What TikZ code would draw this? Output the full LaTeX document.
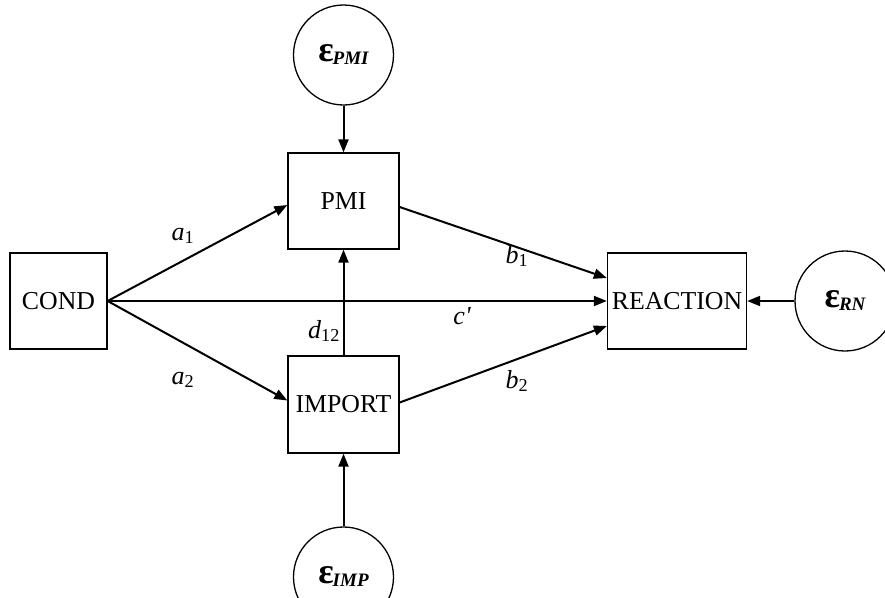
\documentclass[tikz,border=0pt]{standalone}
\usepackage{fontspec}
\setmainfont{Liberation Serif}
\usetikzlibrary{arrows.meta}
\begin{document}
\begin{tikzpicture}[x=1pt,y=-1pt,
  box/.style={draw,line width=1.3pt,rectangle,inner sep=0pt,font=\fontsize{25.8}{30}\selectfont},
  err/.style={draw,line width=1.3pt,circle,minimum size=100pt,inner sep=0pt},
  arr/.style={line width=2pt,-{Triangle[length=13pt,width=10pt]}},
  lab/.style={font=\fontsize{26}{30}\selectfont\itshape,inner sep=0pt}]
\useasboundingbox (0,0) rectangle (885,597);
\clip (0,0) rectangle (885,597);
\newcommand{\epsl}[1]{{\fontsize{36}{38}\selectfont\bfseries ε}\hspace{-1pt}{\fontsize{19}{20}\selectfont\bfseries\itshape\raisebox{-3pt}{#1}}}
\node[box,minimum width=97pt,minimum height=96pt] (cond) at (58.5,301) {COND};
\node[box,minimum width=111pt,minimum height=96pt] (pmi) at (343.5,201) {PMI};
\node[box,minimum width=111pt,minimum height=97pt] (import) at (343.5,404.5) {IMPORT};
\node[box,minimum width=139pt,minimum height=96pt] (reaction) at (677,301) {REACTION};
\node[err] (epmi) at (343.5,55) {\epsl{PMI}};
\node[err] (eimp) at (343.5,577) {\epsl{IMP}};
\node[err] (ern) at (845,301) {\epsl{RN}};
\draw[arr] (epmi.south) -- (pmi.north);
\draw[arr] (eimp.north) -- (import.south);
\draw[arr] (ern.west) -- (reaction.east);
\draw[arr] (cond.east) -- ([yshift=-4pt]pmi.west);
\draw[arr] (cond.east) -- ([yshift=4pt]import.west);
\draw[arr] (cond.east) -- (reaction.west);
\draw[arr] (import.north) -- (pmi.south);
\draw[arr] ([yshift=-6pt]pmi.east) -- ([yshift=23pt]reaction.west);
\draw[arr] ([yshift=2pt]import.east) -- ([yshift=-25pt]reaction.west);
\node[lab] (la1) at (183,236) {a\textsubscript{\upshape 1}};
\node[lab] (la2) at (183,380) {a\textsubscript{\upshape 2}};
\node[lab] (lb1) at (517,256) {b\textsubscript{\upshape 1}};
\node[lab] (lb2) at (517,381) {b\textsubscript{\upshape 2}};
\node[lab] (lc) at (462,316) {c\textquotesingle};
\node[lab] (ld) at (324,331) {d\textsubscript{\upshape 12}};
\end{tikzpicture}
\end{document}
